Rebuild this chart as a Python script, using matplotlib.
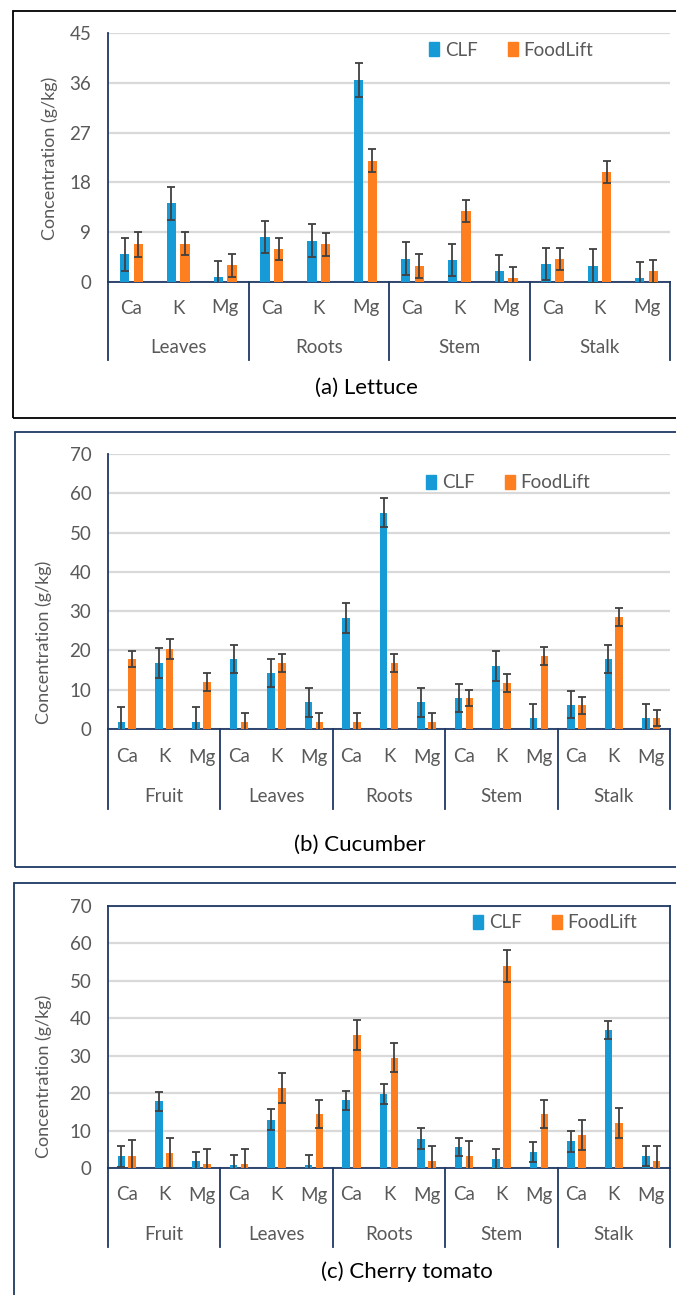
"""Ca / K / Mg concentration by plant part: CLF vs FoodLift (lettuce, cucumber, cherry tomato)."""

import matplotlib
matplotlib.use("Agg")
import matplotlib.pyplot as plt
import matplotlib.transforms as mtransforms
from matplotlib.patches import Rectangle, Patch
import numpy as np

plt.rcParams["font.family"] = ["Lato", "DejaVu Sans"]

W, H = 676, 1295
ELEMENTS = ["Ca", "K", "Mg"]

# --- data (g/kg) ---
lettuce_parts = ["Leaves", "Roots", "Stem", "Stalk"]
lettuce_clf = [5.0, 14.2, 0.9, 8.1, 7.5, 36.5, 4.2, 4.0, 1.9, 3.2, 2.9, 0.8]
lettuce_clf_err = [3.0, 3.0, 2.9, 2.9, 2.9, 3.0, 3.0, 2.9, 2.9, 2.9, 3.0, 2.8]
lettuce_fl = [6.8, 6.9, 3.0, 5.9, 6.8, 21.9, 2.9, 12.9, 0.8, 4.2, 19.9, 1.9]
lettuce_fl_err = [2.2, 2.1, 2.1, 2.0, 2.1, 2.1, 2.1, 2.0, 2.0, 2.0, 2.0, 2.1]

cucumber_parts = ["Fruit", "Leaves", "Roots", "Stem", "Stalk"]
cucumber_clf = [1.7, 16.8, 1.7, 17.8, 14.2, 6.8, 28.2, 55.1, 6.8, 7.9, 16.1, 2.8, 6.2, 17.8, 2.8]
cucumber_clf_err = [3.8, 3.8, 3.8, 3.6, 3.6, 3.7, 3.8, 3.7, 3.7, 3.5, 3.8, 3.6, 3.5, 3.6, 3.6]
cucumber_fl = [17.8, 20.4, 11.9, 1.7, 16.8, 1.7, 1.7, 16.8, 1.7, 7.9, 11.7, 18.6, 6.0, 28.5, 2.8]
cucumber_fl_err = [2.1, 2.5, 2.3, 2.4, 2.4, 2.4, 2.4, 2.4, 2.4, 2.1, 2.4, 2.4, 2.1, 2.3, 2.1]

tomato_parts = ["Fruit", "Leaves", "Roots", "Stem", "Stalk"]
tomato_clf = [3.1, 17.8, 1.8, 0.9, 12.9, 0.9, 18.1, 19.8, 7.8, 5.5, 2.4, 4.3, 7.1, 36.9, 3.3]
tomato_clf_err = [2.7, 2.5, 2.6, 2.7, 2.8, 2.7, 2.6, 2.7, 2.8, 2.4, 2.7, 2.6, 2.7, 2.5, 2.7]
tomato_fl = [3.3, 4.0, 1.2, 1.2, 21.4, 14.4, 35.6, 29.5, 2.0, 3.1, 54.0, 14.4, 8.8, 12.0, 2.0]
tomato_fl_err = [4.1, 4.0, 3.9, 3.9, 4.0, 3.8, 4.0, 3.9, 4.0, 4.0, 4.3, 3.8, 4.1, 4.0, 4.0]

BLUE = "#179bd7"
ORANGE = "#fd7f20"
NAVY = "#1f3864"
GRID = "#d9d9d9"
TXT = "#595959"
ERR = "#404040"
FS = 13.5


def fx(px):
    return px / W


def fy(py):
    return 1 - py / H


def panel(fig, parts, clf, clf_err, fl, fl_err, ymax, ystep, geo):
    top, zero = geo["top"], geo["zero"]
    left, right = 108, 670
    ax = fig.add_axes([fx(left), fy(zero), fx(right - left), (zero - top) / H])
    n = len(parts) * 3
    x = np.arange(n) + 0.5
    ax.bar(x - 0.145, clf, 0.2, color=BLUE, zorder=3, label="CLF")
    ax.bar(x + 0.145, fl, 0.2, color=ORANGE, zorder=3, label="FoodLift")
    ax.errorbar(x - 0.145, clf, yerr=clf_err, fmt="none", ecolor=ERR,
                elinewidth=1.3, capsize=3, capthick=1.3, zorder=4)
    ax.errorbar(x + 0.145, fl, yerr=fl_err, fmt="none", ecolor=ERR,
                elinewidth=1.3, capsize=3, capthick=1.3, zorder=4)

    ax.set_xlim(0, n)
    ax.set_ylim(0, ymax)
    ax.set_yticks(np.arange(0, ymax + 0.1, ystep))
    ax.yaxis.grid(True, color=GRID, lw=1.6, zorder=0)
    ax.set_axisbelow(True)
    ax.tick_params(axis="y", length=0, pad=12, labelsize=FS, labelcolor=TXT)
    ax.set_xticks([])

    for s in ["top", "right"]:
        ax.spines[s].set_visible(geo["box"])
    for s in ax.spines.values():
        s.set_color(NAVY)
        s.set_linewidth(1.3)

    tr = mtransforms.blended_transform_factory(ax.transData, fig.transFigure)
    for i in range(n):
        ax.text(x[i], fy(geo["cat"]), ELEMENTS[i % 3], transform=tr, ha="center",
                va="center", fontsize=FS, color=TXT)
    for g, name in enumerate(parts):
        ax.text(3 * g + 1.5, fy(geo["grp"]), name, transform=tr, ha="center",
                va="center", fontsize=FS, color=TXT)
    for g in range(len(parts) + 1):
        ax.plot([3 * g, 3 * g], [fy(zero), fy(geo["sep"])], transform=tr,
                color=NAVY, lw=1.3, clip_on=False)

    fig.text(fx(geo["ylx"]), fy(geo["yly"]), "Concentration (g/kg)", rotation=90,
             ha="center", va="center", fontsize=13, color=TXT)
    fig.text(fx(geo["tx"]), fy(geo["ty"]), geo["title"], ha="center", va="center",
             fontsize=16, color="black")

    handles = [Patch(color=BLUE), Patch(color=ORANGE)]
    fig.legend(handles, ["CLF", "FoodLift"], loc="center left",
               bbox_to_anchor=(fx(geo["lx"]), fy(geo["ly"])), ncol=2, frameon=False,
               fontsize=FS, labelcolor=TXT, handlelength=0.55, handleheight=0.7,
               handletextpad=0.3, columnspacing=1.6, borderpad=0, borderaxespad=0)
    return ax


fig = plt.figure(figsize=(W / 100, H / 100), dpi=100)

# panel frames
for (x0, y0, y1, col) in [(13, 11, 418, "black"), (15, 432, 867, NAVY), (14, 883, 1320, NAVY)]:
    fig.patches.append(Rectangle((fx(x0), fy(y1)), fx(700 - x0), (y1 - y0) / H,
                                 transform=fig.transFigure, fill=False, ec=col, lw=1.3))

panel(fig, lettuce_parts, lettuce_clf, lettuce_clf_err, lettuce_fl, lettuce_fl_err, 45, 9,
      dict(top=33, zero=282, cat=308, grp=348, sep=360, box=False, ylx=50, yly=158,
           tx=366, ty=388, title="(a) Lettuce", lx=429, ly=50))
panel(fig, cucumber_parts, cucumber_clf, cucumber_clf_err, cucumber_fl, cucumber_fl_err, 70, 10,
      dict(top=454, zero=729, cat=757, grp=797, sep=809, box=False, ylx=44, yly=642,
           tx=360, ty=845, title="(b) Cucumber", lx=426, ly=483))
panel(fig, tomato_parts, tomato_clf, tomato_clf_err, tomato_fl, tomato_fl_err, 70, 10,
      dict(top=906, zero=1168, cat=1195, grp=1235, sep=1247, box=True, ylx=44, yly=1076,
           tx=407, ty=1272, title="(c) Cherry tomato", lx=473, ly=923))

fig.savefig("out.png", dpi=100)
